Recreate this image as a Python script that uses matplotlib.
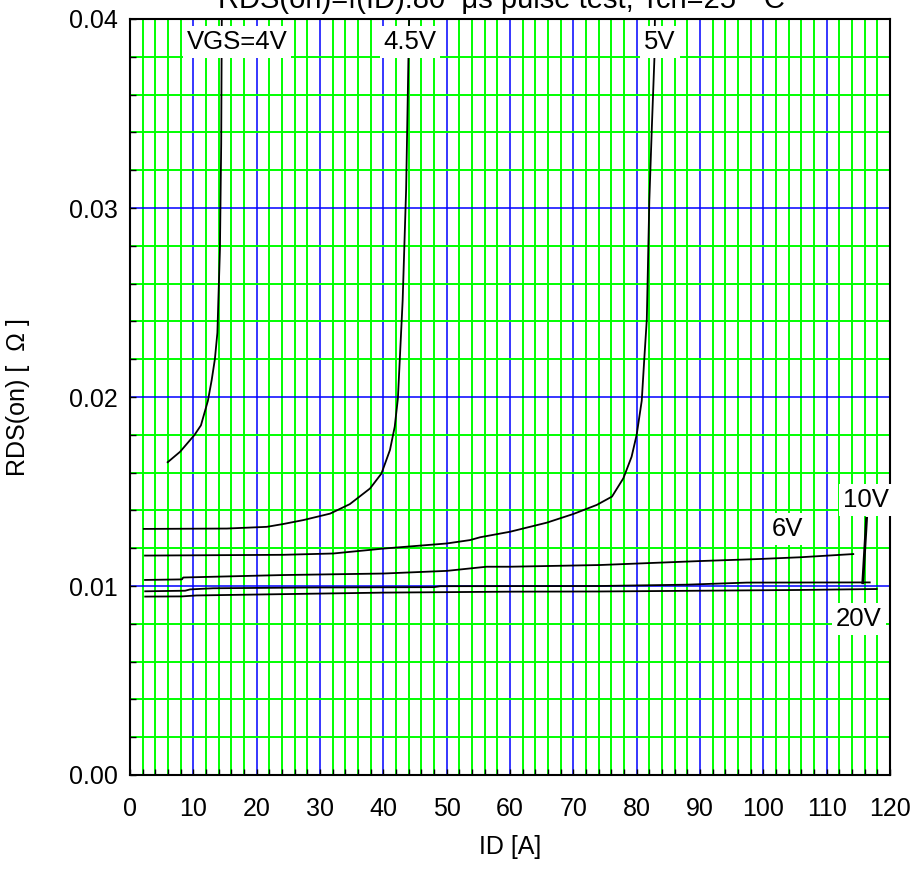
import matplotlib
matplotlib.use("Agg")
import matplotlib.pyplot as plt
from matplotlib.ticker import MultipleLocator, FormatStrFormatter

plt.rcParams['font.family'] = ['Liberation Sans', 'DejaVu Sans']

# curves: drain current [A] vs on-resistance [ohm]
vgs4_id = [5.95, 7.9, 10.2, 11.2, 12.3, 12.9, 13.4, 13.8, 13.95, 14.2, 14.4, 14.5]
vgs4_r = [0.01655, 0.0171, 0.0180, 0.0185, 0.0198, 0.0209, 0.0220, 0.0234,
          0.0251, 0.0278, 0.0334, 0.0405]

vgs45_id = [2.2, 15.3, 21.6, 24.2, 27.4, 31.6, 34.7, 37.9, 39.7, 41.05, 41.8,
            42.3, 42.6, 43.05, 43.6, 44.1]
vgs45_r = [0.01302, 0.01304, 0.01313, 0.01328, 0.01349, 0.01383, 0.01433,
           0.01516, 0.01595, 0.0172, 0.01843, 0.01993, 0.0220, 0.0251, 0.031, 0.0405]

vgs5_id = [2.37, 24.2, 32.1, 40, 50, 53.7, 55.3, 60, 65.8, 70, 73.7, 76.1, 77.9,
           79.2, 80.0, 80.8, 81.2, 81.6, 82.0, 82.4, 82.8, 82.9]
vgs5_r = [0.01161, 0.01165, 0.01172, 0.01198, 0.01225, 0.01243, 0.01258, 0.01287,
          0.01335, 0.01381, 0.01429, 0.01473, 0.0157, 0.01684, 0.0180, 0.0198,
          0.0220, 0.0241, 0.0304, 0.0343, 0.0379, 0.0405]

vgs6_id = [2.37, 8.2, 8.4, 24.2, 40, 50, 56.3, 60, 74.2, 90, 99.5, 105.8, 114.2]
vgs6_r = [0.01032, 0.01035, 0.01045, 0.01058, 0.01066, 0.0108, 0.01102, 0.01102,
          0.01111, 0.01132, 0.01143, 0.01152, 0.01169]

vgs10_id = [2.4, 8.7, 9.5, 13.1, 28.4, 48.0, 49.0, 74.2, 87.9, 97.4, 116.8]
vgs10_r = [0.00972, 0.00975, 0.00982, 0.00988, 0.00992, 0.00994, 0.00999,
           0.01, 0.01007, 0.01018, 0.01019]

vgs20_id = [2.4, 8.2, 10.5, 40, 60, 74.2, 90, 105.8, 117.9]
vgs20_r = [0.00944, 0.00945, 0.0095, 0.00965, 0.0097, 0.00971, 0.00975,
           0.00979, 0.00984]

curve_labels = ['VGS=4V', '4.5V', '5V', '6V', '10V', '20V']
label_x = [16.9, 44.2, 83.7, 103.8, 116.2, 115.1]
label_y = [0.0388, 0.0388, 0.0388, 0.0130, 0.01455, 0.00825]

fig = plt.figure(figsize=(9.15, 8.75), dpi=100)
ax = fig.add_axes([130 / 915, 100 / 875, 760 / 915, 756 / 875])

ax.set_xlim(0, 120)
ax.set_ylim(0, 0.04)
ax.xaxis.set_major_locator(MultipleLocator(10))
ax.xaxis.set_minor_locator(MultipleLocator(2))
ax.yaxis.set_major_locator(MultipleLocator(0.01))
ax.yaxis.set_minor_locator(MultipleLocator(0.002))
ax.yaxis.set_major_formatter(FormatStrFormatter('%.2f'))

ax.grid(which='minor', color='#00ff00', linewidth=1.4)
ax.grid(which='major', color='#0000ff', linewidth=1.1)
ax.set_axisbelow(True)

ax.tick_params(which='both', direction='in', length=4, width=1, colors='black')
ax.tick_params(axis='x', which='major', pad=16, labelsize=18)
ax.tick_params(axis='y', which='major', pad=9, labelsize=18)

for s in ax.spines.values():
    s.set_linewidth(1.5)
    s.set_color('black')

for xs, ys in [(vgs4_id, vgs4_r), (vgs45_id, vgs45_r), (vgs5_id, vgs5_r),
               (vgs6_id, vgs6_r), (vgs10_id, vgs10_r), (vgs20_id, vgs20_r)]:
    ax.plot(xs, ys, color='black', linewidth=1.3, zorder=3)

# leader from the 10V label to its curve
ax.plot([116.3, 115.7], [0.01358, 0.01017], color='black', linewidth=2, zorder=3)

for txt, x, y in zip(curve_labels, label_x, label_y):
    ax.text(x, y, txt, fontsize=18.5, ha='center', va='center', zorder=5,
            bbox=dict(boxstyle='square,pad=0.15', facecolor='white', edgecolor='none'))

ax.set_xlabel('ID [A]', fontsize=18, labelpad=10)
ax.set_ylabel('RDS(on) [  Ω ]', fontsize=18, labelpad=28)

fig.text(0.548, 1 - 8 / 875, 'RDS(on)=f(ID):80  μs pulse test, Tch=25  °C',
         fontsize=21, ha='center', va='baseline')

fig.savefig('out.png', dpi=100)
